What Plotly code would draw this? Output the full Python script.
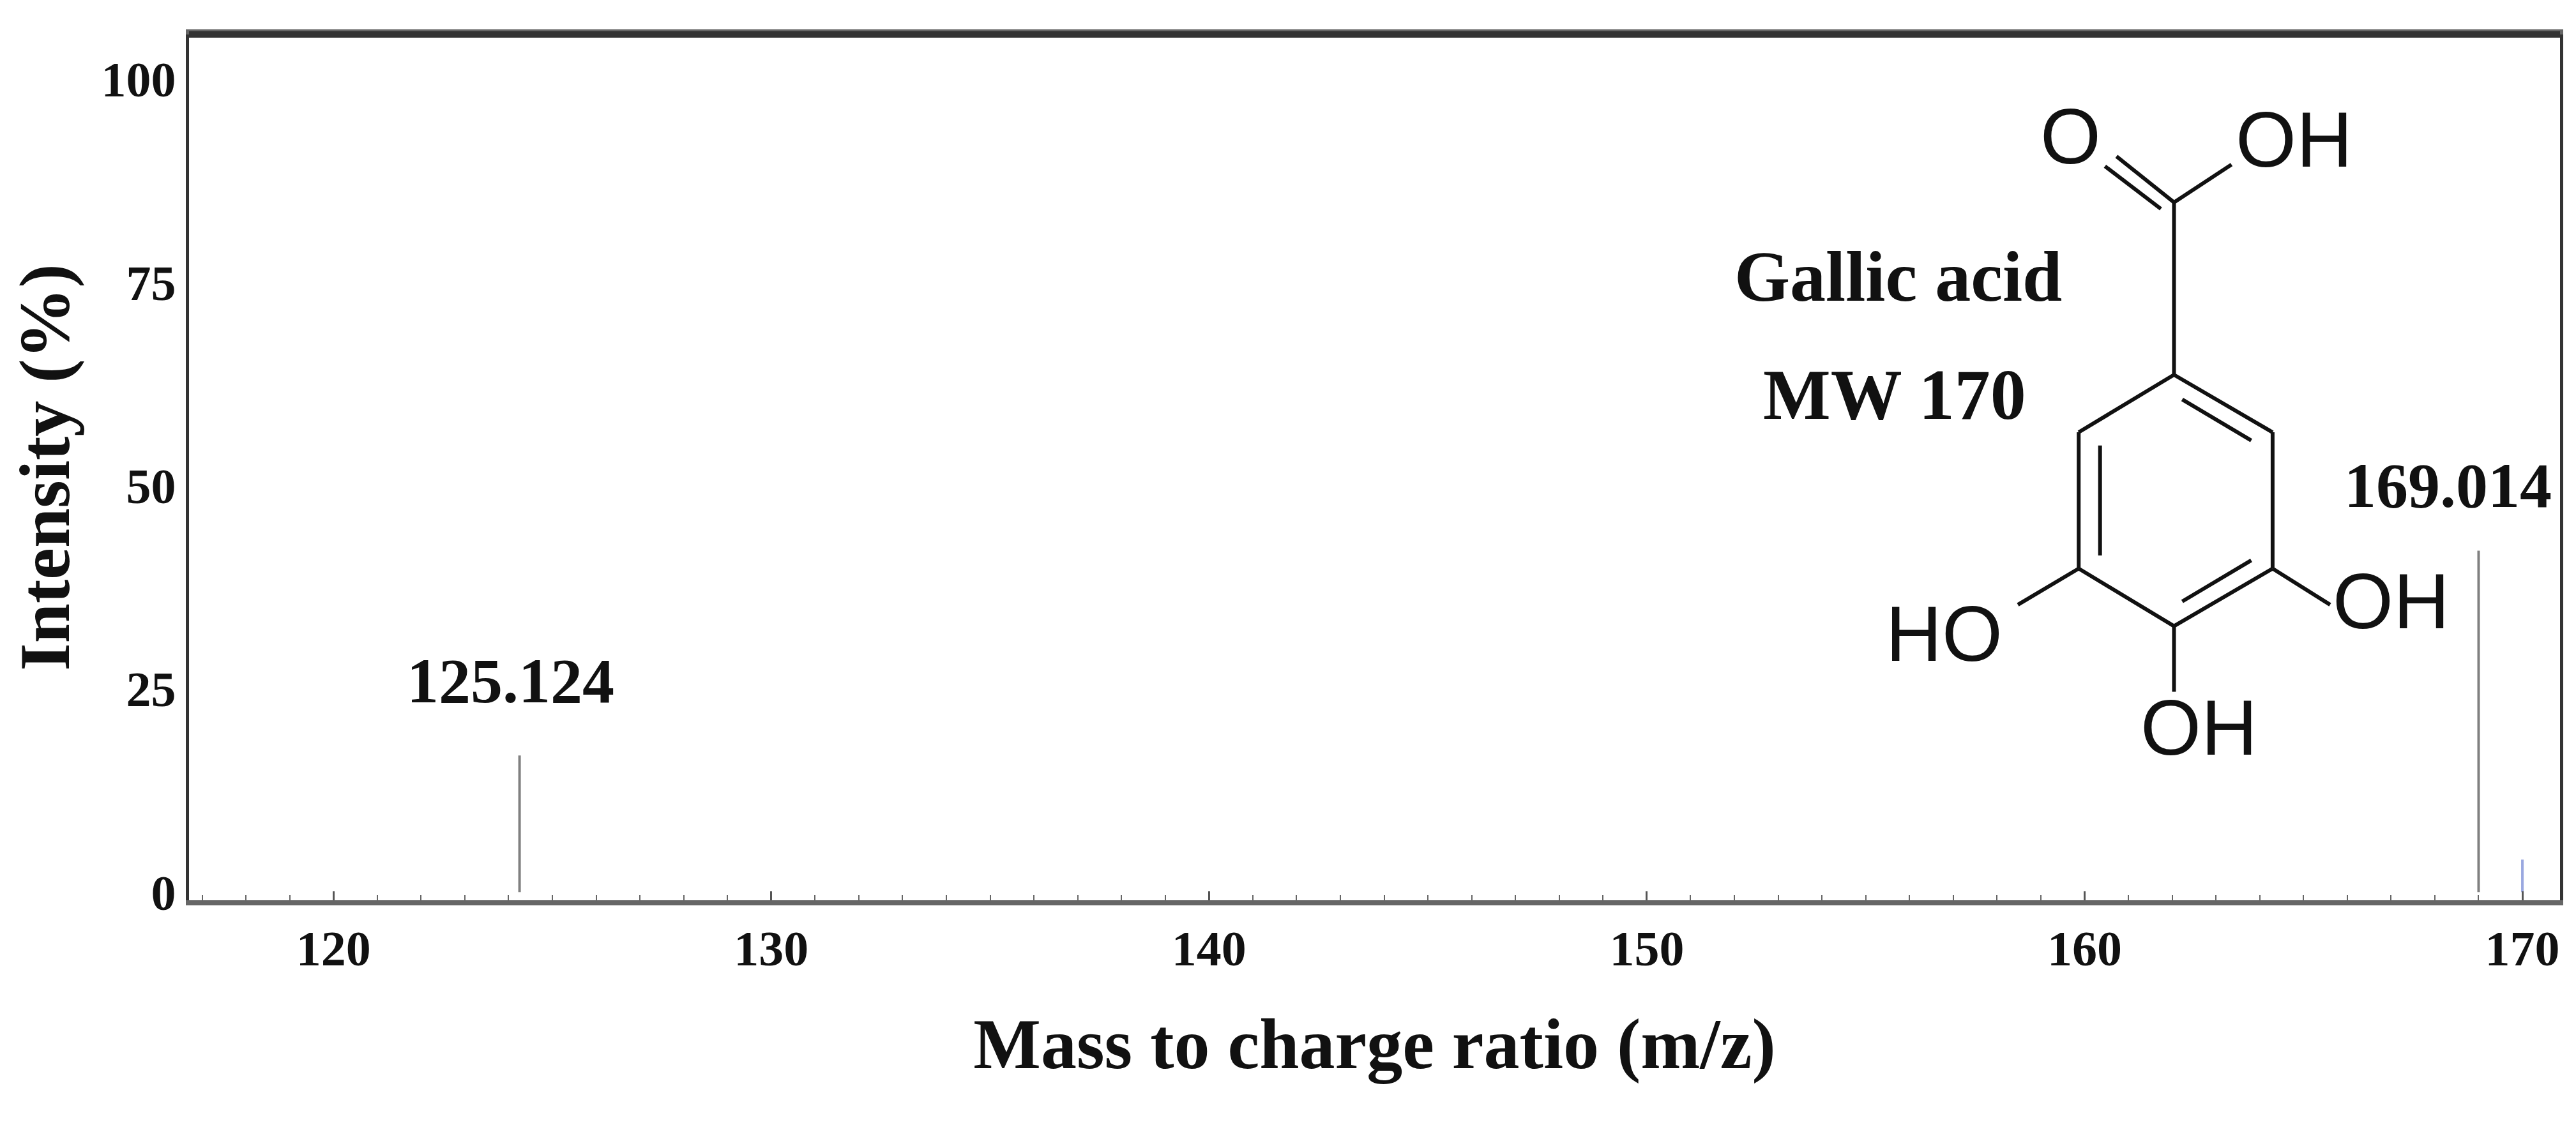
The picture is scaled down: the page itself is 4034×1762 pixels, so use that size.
import plotly.graph_objects as go

peak_mz = [124.25, 169.0, 170.0]
peak_int = [16.8, 42.0, 4.0]
peak_colors = ["#808080", "#808080", "#9aa8e0"]
peak_labels = ["125.124", "169.014"]
label_mz = [124.05, 168.3]
label_int = [26, 50]
yticks = [0, 25, 50, 75, 100]
xticks = [120, 130, 140, 150, 160, 170]

def px(x, y):
    # convert reference pixel position (1568-wide view) to data coordinates
    return 120 + (x - 200) / 26.64, (540 - y) / 4.95

fig = go.Figure()
for m, h, c in zip(peak_mz, peak_int, peak_colors):
    fig.add_trace(go.Scatter(x=[m, m], y=[0, h], mode="lines",
                             line=dict(color=c, width=4), showlegend=False, hoverinfo="skip"))

bonds = [
    ((1320, 225), (1380, 260)), ((1380, 260), (1380, 343)), ((1380, 343), (1320, 378)),
    ((1320, 378), (1262, 343)), ((1262, 343), (1262, 260)), ((1262, 260), (1320, 225)),
    ((1325, 240), (1367, 265)), ((1275, 268), (1275, 335)), ((1367, 338), (1325, 363)),
    ((1320, 225), (1320, 120)), ((1320, 120), (1285, 92)), ((1312, 124), (1278, 98)),
    ((1320, 120), (1355, 97)),
    ((1262, 343), (1225, 365)), ((1380, 343), (1415, 365)), ((1320, 378), (1320, 418)),
]
for a, b in bonds:
    x0, y0 = px(*a); x1, y1 = px(*b)
    fig.add_shape(type="line", x0=x0, y0=y0, x1=x1, y1=y1, line=dict(color="#111", width=6))

for t, (x, y) in [("O", (1257, 80)), ("OH", (1393, 82)), ("HO", (1180, 383)),
                  ("OH", (1452, 363)), ("OH", (1335, 440))]:
    xx, yy = px(x, y)
    fig.add_annotation(x=xx, y=yy, text=t, showarrow=False,
                       font=dict(family="Liberation Sans", size=122, color="#111"))

for t, (x, y) in [("<b>Gallic acid</b>", (1152, 165)), ("<b>MW 170</b>", (1150, 237))]:
    xx, yy = px(x, y)
    fig.add_annotation(x=xx, y=yy, text=t, showarrow=False,
                       font=dict(family="Liberation Serif", size=112, color="#111"))

for t, x, y in zip(peak_labels, label_mz, label_int):
    fig.add_annotation(x=x, y=y, text="<b>" + t + "</b>", showarrow=False,
                       font=dict(family="Liberation Serif", size=100, color="#111"))

# thick dark top border as in the reference
fig.add_shape(type="line", xref="paper", yref="paper", x0=0, x1=1, y0=1, y1=1,
              line=dict(color="#333", width=10))

fig.update_layout(
    width=4034, height=1762, margin=dict(l=288, r=33, t=46, b=360),
    paper_bgcolor="white", plot_bgcolor="white", showlegend=False,
    font=dict(family="Liberation Serif", color="#111"),
)
fig.update_xaxes(range=[116.7, 170.86], tickvals=xticks,
                 ticktext=["<b>%d</b>" % v for v in xticks],
                 tickfont=dict(size=78), ticks="inside", ticklen=14, tickwidth=3, tickcolor="#555",
                 minor=dict(dtick=1, ticks="inside", ticklen=8, tickcolor="#666", tickwidth=2),
                 showline=True, linecolor="#666", linewidth=8, mirror=True, showgrid=False,
                 zeroline=False,
                 title=dict(text="<b>Mass to charge ratio (m/z)</b>", font=dict(size=112), standoff=70))
fig.update_yaxes(range=[-1, 105.5], tickvals=yticks,
                 ticktext=["<b>%d</b>" % v for v in yticks],
                 tickfont=dict(size=78), ticks="", showline=True, linecolor="#333", linewidth=5,
                 mirror=True, showgrid=False, zeroline=False,
                 title=dict(text="<b>Intensity (%)</b>", font=dict(size=112), standoff=40))
fig.write_html("out.html")
